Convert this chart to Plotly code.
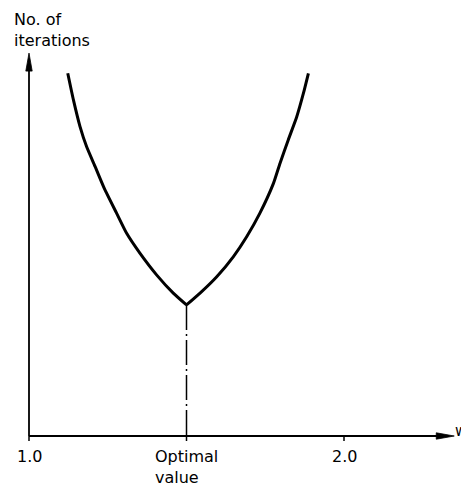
import plotly.graph_objects as go

# Data (relative units)
w_left = [1.123, 1.141, 1.162, 1.183, 1.210, 1.239, 1.278, 1.310, 1.352, 1.405, 1.458, 1.50]
iters_left = [95.2, 88.2, 81.2, 75.9, 70.7, 65.0, 58.5, 53.2, 48.0, 42.3, 37.5, 34.4]
w_right = [1.50, 1.543, 1.596, 1.649, 1.691, 1.733, 1.776, 1.797, 1.823, 1.850, 1.871, 1.887]
iters_right = [34.4, 37.5, 41.8, 47.1, 52.3, 58.5, 66.3, 71.6, 77.7, 83.8, 89.9, 95.2]
w_optimal = 1.50
tick_vals = [1.0, 1.5, 2.0]
tick_text = ["1.0", "Optimal<br>value", "2.0"]
x_axis_end = 2.35
y_axis_end = 100.5
y_title = "No. of<br>iterations"
x_title = "w"

FONT = "DejaVu Sans"
FS = 16
PXX = 1 / 315.0   # data units per pixel, x
PXY = 1 / 3.81    # data units per pixel, y

fig = go.Figure()

# the two branches of the curve (meet in a cusp at the optimum)
for xs, ys in ((w_left, iters_left), (w_right, iters_right)):
    fig.add_trace(go.Scatter(
        x=xs, y=ys, mode="lines",
        line=dict(color="black", width=3, shape="spline", smoothing=0.5),
        hoverinfo="skip", showlegend=False))

# dash-dot line down from the optimum
fig.add_trace(go.Scatter(
    x=[w_optimal, w_optimal], y=[iters_left[-1], 0],
    mode="lines", line=dict(color="black", width=1.5, dash="25px,4px,2px,4px"),
    hoverinfo="skip", showlegend=False))

# axis lines
fig.add_shape(type="line", x0=1.0, y0=0, x1=x_axis_end - 10 * PXX, y1=0,
              line=dict(color="black", width=1.8))
fig.add_shape(type="line", x0=1.0, y0=0, x1=1.0, y1=y_axis_end - 10 * PXY,
              line=dict(color="black", width=1.8))
# slender arrow heads
hl, hw = 18, 3.2
fig.add_trace(go.Scatter(
    x=[x_axis_end, x_axis_end - hl * PXX, x_axis_end - hl * PXX, x_axis_end],
    y=[0, hw * PXY, -hw * PXY, 0], mode="lines", fill="toself",
    fillcolor="black", line=dict(color="black", width=0.8),
    hoverinfo="skip", showlegend=False))
fig.add_trace(go.Scatter(
    x=[1.0, 1.0 - hw * PXX, 1.0 + hw * PXX, 1.0],
    y=[y_axis_end, y_axis_end - hl * PXY, y_axis_end - hl * PXY, y_axis_end],
    mode="lines", fill="toself",
    fillcolor="black", line=dict(color="black", width=0.8),
    hoverinfo="skip", showlegend=False))

# ticks
for v in tick_vals:
    fig.add_shape(type="line", x0=v, x1=v, y0=0, y1=-5 * PXY,
                  line=dict(color="black", width=1.5))

# tick labels
fig.add_annotation(x=tick_vals[0], y=0, text=tick_text[0], showarrow=False,
                   xanchor="center", yanchor="top", yshift=-9,
                   font=dict(family=FONT, size=FS, color="black"))
fig.add_annotation(x=1.394, y=0, text=tick_text[1], showarrow=False,
                   xanchor="left", yanchor="top", yshift=-9, align="left",
                   font=dict(family=FONT, size=FS, color="black"))
fig.add_annotation(x=tick_vals[2], y=0, text=tick_text[2], showarrow=False,
                   xanchor="center", yanchor="top", yshift=-9,
                   font=dict(family=FONT, size=FS, color="black"))

# axis titles
fig.add_annotation(x=1.0 - 17 * PXX, y=(436 - 8) * PXY, text=y_title,
                   showarrow=False, xanchor="left", yanchor="top", align="left",
                   font=dict(family=FONT, size=FS, color="black"))
fig.add_annotation(x=1.0 + 424 * PXX, y=0, text=x_title,
                   showarrow=False, xanchor="left", yanchor="middle", yshift=5,
                   font=dict(family=FONT, size=15, color="black"))

W, H = 461, 478
fig.update_layout(
    width=W, height=H,
    margin=dict(l=0, r=0, t=0, b=0, pad=0),
    paper_bgcolor="white", plot_bgcolor="white",
    xaxis=dict(range=[1.0 - 21 * PXX, 1.0 + 440 * PXX], visible=False),
    yaxis=dict(range=[-50 * PXY, 428 * PXY], visible=False),
)

fig.write_html("out.html")
